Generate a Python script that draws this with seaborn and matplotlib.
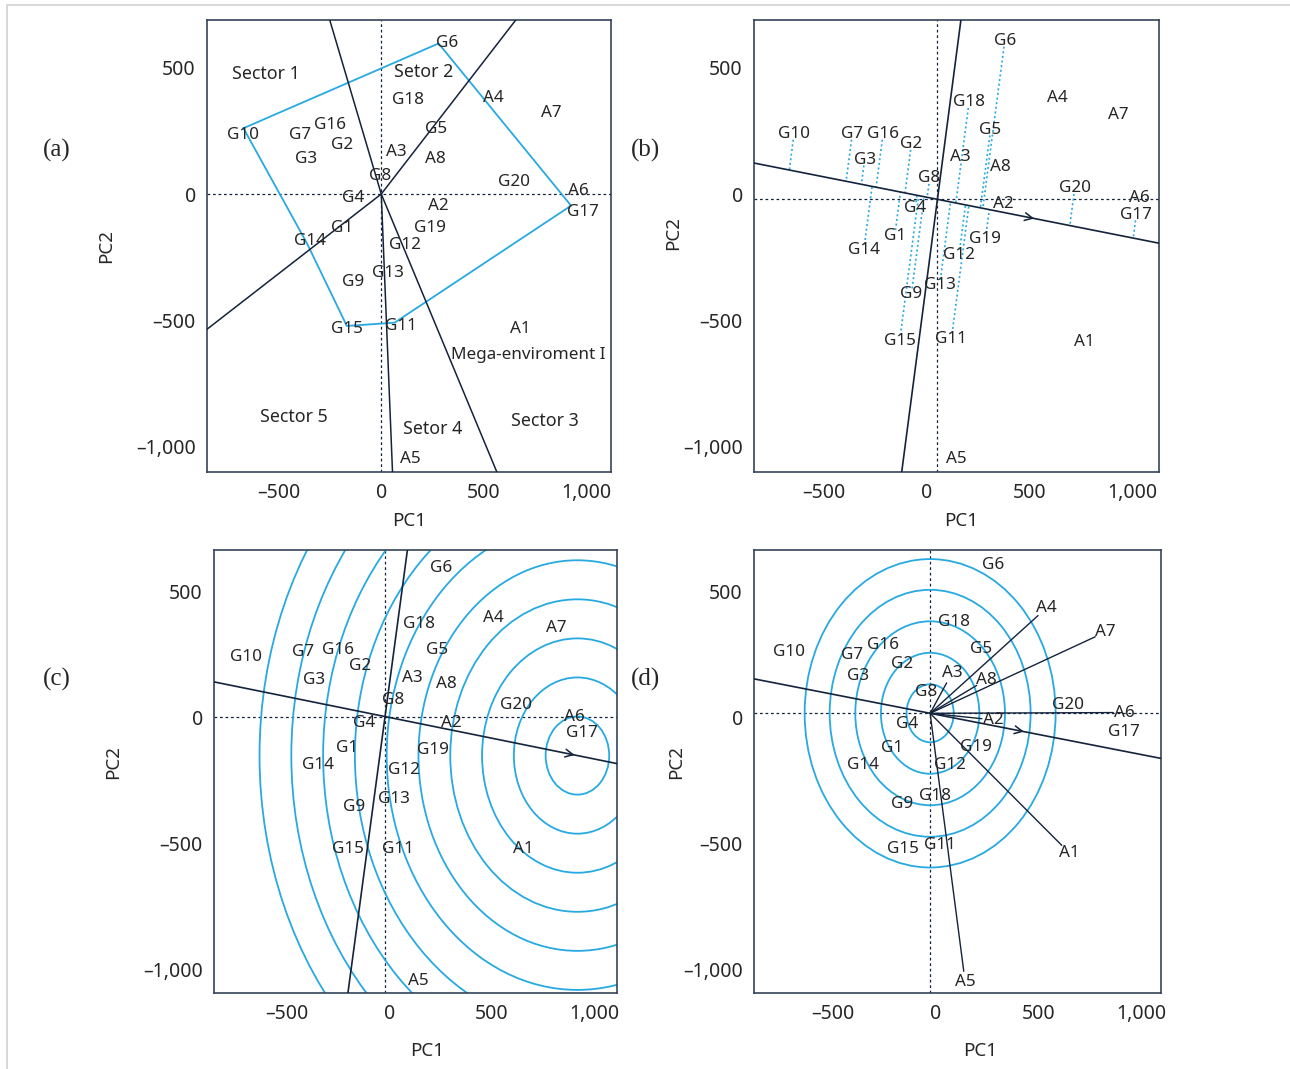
import numpy as np
import pandas as pd
import matplotlib
matplotlib.use("Agg")
import matplotlib.pyplot as plt
from matplotlib.patches import Circle, Rectangle
import seaborn as sns

sns.set_theme(style="white")
plt.rcParams["font.family"] = ["Noto Sans", "DejaVu Sans"]

W, H, DPI = 1290, 1069, 100
BLUE = "#27a9e1"
NAVY = "#14233c"
TEXT = "#262626"
FRAME = "#34445a"

# ---------------- data ----------------
labels = ["G1", "G2", "G3", "G4", "G5", "G6", "G7", "G8", "G9", "G10",
          "G11", "G12", "G13", "G14", "G15", "G16", "G17", "G18", "G19", "G20",
          "A1", "A2", "A3", "A4", "A5", "A6", "A7", "A8"]

# panel (a) - which-won-where
a_x = [-192, -192, -366, -138, 269, 280, -396, -5, -138, -673,
       65, 117, 31, -363, -168, -249, 927, 129, 236, 646,
       679, 280, 73, 546, 142, 964, 829, 265]
a_y = [-133, 194, 139, -15, 256, 597, 234, 73, -347, 261,
       -510, -202, -314, -195, -523, 273, -46, 373, -133, 49,
       -536, -46, 165, 382, -1051, 13, 320, 139]
hull_a = ["G10", "G6", "G17", "G11", "G15", "G14", "G10"]
sector_ray_x = [-249, 657, 565, 55, -851]
sector_ray_y = [683, 690, -1103, -1103, -536]
sector_names = ["Sector 1", "Setor 2", "Sector 3", "Setor 4", "Sector 5", "Mega-enviroment I"]
sector_x = [-563, 207, 801, 251, -428, 718]
sector_y = [474, 482, -900, -933, -883, -638]

# panel (b) - mean vs. stability
b_x = [-157, -76, -304, -57, 310, 379, -364, 13, -76, -648,
       119, 156, 62, -308, -133, -214, 1020, 205, 285, 720,
       765, 374, 163, 634, 143, 1033, 931, 358]
b_y = [-165, 197, 135, -54, 254, 606, 237, 62, -396, 237,
       -575, -242, -361, -222, -581, 237, -83, 363, -178, 22,
       -585, -41, 145, 382, -1052, -17, 313, 108]
b_origin = (51, -21)
b_slope = -0.161
b_arrow_x = 536

# panel (c) - ranking genotypes
c_x = [-206, -142, -366, -122, 236, 254, -421, 18, -171, -698,
       45, 73, 21, -345, -202, -247, 940, 148, 213, 620,
       655, 303, 111, 509, 143, 903, 815, 278]
c_y = [-121, 206, 150, -22, 268, 595, 259, 70, -353, 242,
       -522, -208, -324, -188, -522, 268, -60, 370, -128, 50,
       -522, -22, 159, 397, -1047, 1, 357, 132]
c_origin = (-20, 4)
c_slope = -0.165
c_ideal_x = 918
c_radii = [155, 310, 465, 620, 775, 930, 1085, 1240, 1395, 1550]

# panel (d) - environment vectors
d_x = [-215, -166, -378, -142, 221, 281, -410, -47, -166, -714,
       18, 70, -3, -353, -161, -256, 919, 86, 195, 642,
       652, 278, 78, 538, 143, 919, 826, 245]
d_y = [-121, 212, 163, -25, 273, 606, 249, 103, -342, 262,
       -505, -190, -311, -190, -522, 288, -58, 378, -117, 48,
       -538, -9, 176, 434, -1050, 20, 339, 150]
d_text = labels.copy()
d_text[12] = "G18"          # as printed in the original
d_origin = (-28, 17)
d_slope = -0.159
d_arrow_x = 443
d_radii = [115, 240, 365, 490, 612]

xticks = [-500, 0, 500, 1000]
xtick_labels = ["\u2013500", "0", "500", "1,000"]
yticks = [500, 0, -500, -1000]
ytick_labels = ["500", "0", "\u2013500", "\u20131,000"]

# ---------------- layout (pixels) ----------------
panels = {
    "a": dict(box=(207, 20, 611, 472), xlim=(-851, 1122), ylim=(-1102, 690),
              pc1=(416, 521), pc2=(106, 231), tag=(57, 150)),
    "b": dict(box=(754, 20, 1159, 472), xlim=(-843, 1131), ylim=(-1102, 690),
              pc1=(961, 521), pc2=(673, 233), tag=(645, 150)),
    "c": dict(box=(214, 550, 617, 993), xlim=(-854, 1111), ylim=(-1093, 665),
              pc1=(427, 1051), pc2=(113, 762), tag=(57, 679)),
    "d": dict(box=(754, 550, 1161, 993), xlim=(-887, 1098), ylim=(-1093, 665),
              pc1=(980, 1051), pc2=(676, 762), tag=(645, 679)),
}

fig = plt.figure(figsize=(W / DPI, H / DPI), dpi=DPI)
fig.patch.set_facecolor("white")
fig.add_artist(Rectangle((7 / W, -0.05), 1.2, 1.05 - 5 / H, transform=fig.transFigure,
                         fill=False, ec="#d4d4d4", lw=1.3))

axes = {}
for key, p in panels.items():
    L, T, R, B = p["box"]
    ax = fig.add_axes([L / W, 1 - B / H, (R - L) / W, (B - T) / H])
    ax.set_xlim(*p["xlim"])
    ax.set_ylim(*p["ylim"])
    ax.set_xticks(xticks)
    ax.set_xticklabels(xtick_labels)
    ax.set_yticks(yticks)
    ax.set_yticklabels(ytick_labels)
    ax.grid(False)
    ax.set_facecolor("white")
    for s in ax.spines.values():
        s.set_visible(True)
        s.set_color(FRAME)
        s.set_linewidth(1.2)
    ax.tick_params(direction="inout", length=9, width=1.0, color=FRAME,
                   labelsize=14, labelcolor=TEXT, pad=3.5)
    ax.set_xlabel("PC1", fontsize=13.5, color=TEXT)
    ax.set_ylabel("PC2", fontsize=13.5, color=TEXT)
    ax.xaxis.label.set_va("center")
    ax.yaxis.label.set_va("center")
    ax.yaxis.label.set_ha("center")
    ax.xaxis.set_label_coords((p["pc1"][0] - L) / (R - L), (B - p["pc1"][1]) / (B - T))
    ax.yaxis.set_label_coords((p["pc2"][0] - L) / (R - L), (B - p["pc2"][1]) / (B - T))
    fig.text(p["tag"][0] / W, 1 - p["tag"][1] / H, "(%s)" % key, ha="center", va="center",
             fontsize=18, family=["Liberation Serif", "DejaVu Serif"], color=TEXT)
    axes[key] = ax

lab_kw = dict(fontsize=12.3, color=TEXT, ha="center", va="center", zorder=5)
dot_kw = dict(color=NAVY, lw=0.9, ls=(0, (2.2, 2.2)), zorder=1)


def put_labels(ax, xs, ys, texts, shifts=None):
    for x, y, t in zip(xs, ys, texts):
        dx, dy = (shifts or {}).get(t, (0, 0))
        ax.annotate(t, (x, y), xytext=(dx * 0.72, dy * 0.72), textcoords="offset points", **lab_kw)


def arrow_on_line(ax, origin, slope, x_at):
    y_at = origin[1] + slope * (x_at - origin[0])
    ax.annotate("", xy=(x_at, y_at), xytext=(x_at - 40, y_at - 40 * slope),
                arrowprops=dict(arrowstyle="->", color=NAVY, lw=1.1, mutation_scale=14), zorder=4)


# ---------------- (a) which-won-where ----------------
ax = axes["a"]
ax.axhline(0, **dot_kw)
ax.axvline(0, **dot_kw)
df_a = pd.DataFrame({"label": labels, "x": a_x, "y": a_y}).set_index("label")
hull = df_a.loc[hull_a].reset_index()
sns.lineplot(data=hull, x="x", y="y", sort=False, estimator=None, color=BLUE, lw=1.3, ax=ax, zorder=2)
for rx, ry in zip(sector_ray_x, sector_ray_y):
    ax.plot([0, rx * 1.5], [0, ry * 1.5], color=NAVY, lw=1.1, zorder=3)
shifts_a = {"G10": (0, -7), "G6": (9, 0), "G17": (12, -6), "G11": (6, -3), "G15": (0, -3), "G14": (3, 2)}
put_labels(ax, a_x, a_y, labels, shifts_a)
sec_kw = dict(lab_kw, fontsize=12.8)
for t, x, y in zip(sector_names, sector_x, sector_y):
    kw = lab_kw if t.startswith("Mega") else sec_kw
    ax.text(x, y, t, **kw)
ax.set_xlabel("PC1", fontsize=13.5, color=TEXT)
ax.set_ylabel("PC2", fontsize=13.5, color=TEXT)

# ---------------- (b) mean vs stability ----------------
ax = axes["b"]
ox, oy = b_origin
ax.axhline(oy, **dot_kw)
ax.axvline(ox, **dot_kw)
ax.axline(b_origin, slope=b_slope, color=NAVY, lw=1.2, zorder=3)
ax.axline(b_origin, slope=-1 / b_slope, color=NAVY, lw=1.2, zorder=3)
arrow_on_line(ax, b_origin, b_slope, b_arrow_x)
d = np.array([1.0, b_slope]) / np.hypot(1.0, b_slope)
for x, y, t in zip(b_x, b_y, labels):
    if not t.startswith("G"):
        continue
    P = np.array([x, y], float)
    O = np.array(b_origin, float)
    F = O + np.dot(P - O, d) * d
    v = F - P
    n = np.linalg.norm(v)
    S = P + v / n * min(22, n * 0.5)
    ax.plot([S[0], F[0]], [S[1], F[1]], color=BLUE, lw=1.2, ls=(0, (1.2, 1.6)), zorder=2)
put_labels(ax, b_x, b_y, labels)

# ---------------- (c) ranking genotypes ----------------
ax = axes["c"]
ox, oy = c_origin
ax.axhline(oy, **dot_kw)
ax.axvline(ox, **dot_kw)
ax.axline(c_origin, slope=c_slope, color=NAVY, lw=1.2, zorder=3)
ax.axline(c_origin, slope=-1 / c_slope, color=NAVY, lw=1.2, zorder=3)
cy = oy + c_slope * (c_ideal_x - ox)
for r in c_radii:
    ax.add_patch(Circle((c_ideal_x, cy), r, fill=False, ec=BLUE, lw=1.3, zorder=2))
arrow_on_line(ax, c_origin, c_slope, c_ideal_x)
put_labels(ax, c_x, c_y, labels)

# ---------------- (d) environment vectors ----------------
ax = axes["d"]
ox, oy = d_origin
ax.axhline(oy, **dot_kw)
ax.axvline(ox, **dot_kw)
ax.axline(d_origin, slope=d_slope, color=NAVY, lw=1.2, zorder=3)
for r in d_radii:
    ax.add_patch(Circle(d_origin, r, fill=False, ec=BLUE, lw=1.3, zorder=2))
arrow_on_line(ax, d_origin, d_slope, d_arrow_x)
p0 = ax.transData.transform(d_origin)
for x, y, t in zip(d_x, d_y, labels):
    if not t.startswith("A"):
        continue
    p1 = ax.transData.transform((x, y))
    v = p1 - p0
    e = p1 - v / np.linalg.norm(v) * 11
    E = ax.transData.inverted().transform(e)
    ax.plot([ox, E[0]], [oy, E[1]], color=NAVY, lw=1.0, zorder=3)
put_labels(ax, d_x, d_y, d_text)

fig.savefig("out.png", dpi=DPI, facecolor="white")
